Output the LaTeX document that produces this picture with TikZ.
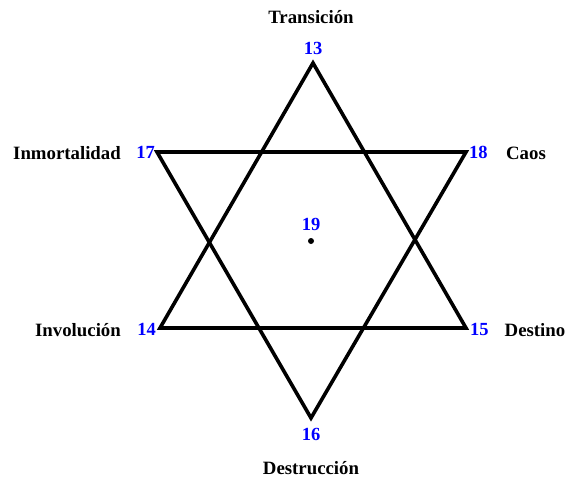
\documentclass[tikz,border=0pt]{standalone}
\usepackage{fontspec}
\setmainfont{Liberation Serif}
\definecolor{numblue}{RGB}{0,0,255}
\begin{document}
\begin{tikzpicture}[x=1pt,y=-1pt,
  lbl/.style={font=\fontsize{18.8}{21}\selectfont\bfseries,inner sep=0pt},
  num/.style={font=\fontsize{18.5}{21}\selectfont\bfseries,text=numblue,inner sep=0pt},
  edge/.style={line width=3.6pt,line join=miter}]
\useasboundingbox (0,0) rectangle (570,477);
\coordinate (v13) at (313,63);
\coordinate (v16) at (311,418);
\coordinate (v17) at (157,152);
\coordinate (v18) at (466,152);
\coordinate (v14) at (160,328);
\coordinate (v15) at (466,328);
\draw[edge] (v13) -- (v14) -- (v15) -- cycle;
\draw[edge] (v17) -- (v18) -- (v16) -- cycle;
\fill (311,241) circle (3);
\node[num] (n19) at (311,224) {19};
\node[num] (n13) at (313,48) {13};
\node[num] (n16) at (311,434) {16};
\node[num,anchor=east] (n17) at (155,152) {17};
\node[num,anchor=west] (n18) at (469,152) {18};
\node[num,anchor=east] (n14) at (156,329) {14};
\node[num,anchor=west] (n15) at (470,329) {15};
\node[lbl] (t13) at (311,17) {Transición};
\node[lbl] (t16) at (311,468) {Destrucción};
\node[lbl] (t17) at (67,153) {Inmortalidad};
\node[lbl] (t18) at (526,153) {Caos};
\node[lbl] (t14) at (78,330) {Involución};
\node[lbl] (t15) at (535,330) {Destino};
\end{tikzpicture}
\end{document}
